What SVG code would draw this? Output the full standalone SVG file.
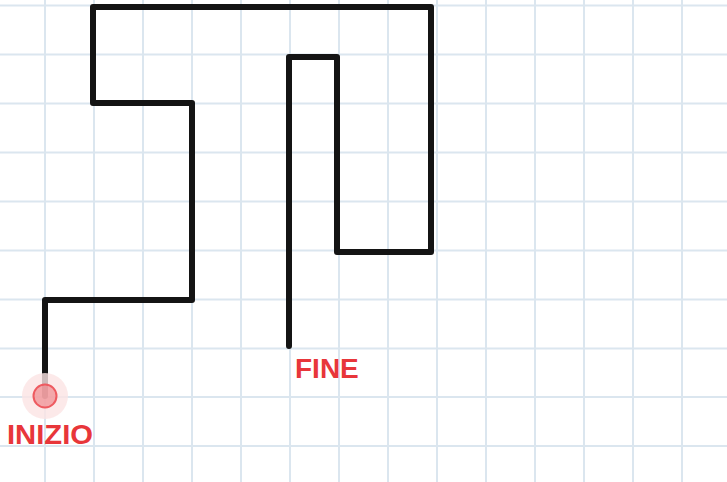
<svg xmlns="http://www.w3.org/2000/svg" width="727" height="482" viewBox="0 0 727 482">
<style>
.grid line{stroke:#dbe6ef;stroke-width:2}
.path{fill:none;stroke:#141414;stroke-width:6;stroke-linecap:round;stroke-linejoin:round}
.lbl{font-family:"Liberation Sans",Arial,sans-serif;font-weight:bold;font-size:28px;fill:#e8363a}
</style>
<rect width="727" height="482" fill="#ffffff"/>
<g class="grid">
<line x1="45" y1="0" x2="45" y2="482"/><line x1="94" y1="0" x2="94" y2="482"/><line x1="143" y1="0" x2="143" y2="482"/><line x1="192" y1="0" x2="192" y2="482"/><line x1="241" y1="0" x2="241" y2="482"/><line x1="290" y1="0" x2="290" y2="482"/><line x1="339" y1="0" x2="339" y2="482"/><line x1="388" y1="0" x2="388" y2="482"/><line x1="437" y1="0" x2="437" y2="482"/><line x1="486" y1="0" x2="486" y2="482"/><line x1="535" y1="0" x2="535" y2="482"/><line x1="584" y1="0" x2="584" y2="482"/><line x1="633" y1="0" x2="633" y2="482"/><line x1="682" y1="0" x2="682" y2="482"/>
<line x1="0" y1="5.5" x2="727" y2="5.5"/><line x1="0" y1="54.5" x2="727" y2="54.5"/><line x1="0" y1="103.5" x2="727" y2="103.5"/><line x1="0" y1="152.5" x2="727" y2="152.5"/><line x1="0" y1="201.5" x2="727" y2="201.5"/><line x1="0" y1="250.5" x2="727" y2="250.5"/><line x1="0" y1="299.5" x2="727" y2="299.5"/><line x1="0" y1="348.5" x2="727" y2="348.5"/><line x1="0" y1="397" x2="727" y2="397"/><line x1="0" y1="446" x2="727" y2="446"/>
</g>
<g id="connectors">
<polyline class="path" points="45,396 45,300 192,300 192,103 93,103 93,7 431,7 431,252 337,252 337,57 289,57 289,346"/>
</g>
<g id="start">
<circle cx="45" cy="396" r="23" fill="#fbe3e4" opacity="0.8"/>
<circle cx="45" cy="396" r="11.5" fill="#f08a8f" fill-opacity="0.7" stroke="#ee5a60" stroke-width="2"/>
<text class="lbl" x="7" y="444" textLength="86" lengthAdjust="spacingAndGlyphs">INIZIO</text>
</g>
<g id="end">
<text class="lbl" x="295" y="378">FINE</text>
</g>
</svg>
